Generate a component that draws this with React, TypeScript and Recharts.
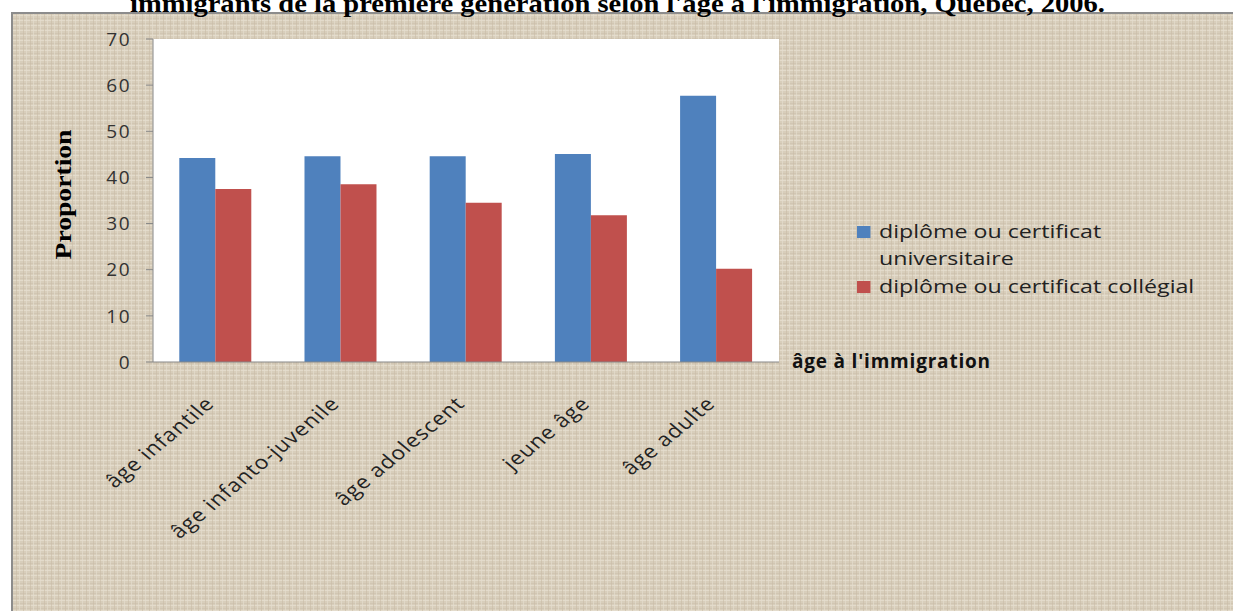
import React from 'react';
import { BarChart, Bar, XAxis, YAxis, CartesianGrid, Legend } from 'recharts';

const categories = ['âge infantile', 'âge infanto-juvenile', 'âge adolescent', 'jeune âge', 'âge adulte'];
const universitaire = [44.2, 44.6, 44.6, 45.1, 57.7];
const collegial = [37.5, 38.5, 34.5, 31.8, 20.2];
const yTicks = [0, 10, 20, 30, 40, 50, 60, 70];

const TITLE = "immigrants de la première génération selon l'âge à l'immigration, Québec, 2006.";
const SERIES_U = 'diplôme ou certificat universitaire';
const SERIES_C = 'diplôme ou certificat collégial';
const SERIES_ORDER = [SERIES_U, SERIES_C];

const BLUE = '#4F81BD';
const RED = '#C0504D';
const AXIS = '#868686';
const FONT = '"Open Sans", sans-serif';

const data = categories.map((name, i) => ({
  name,
  u: universitaire[i],
  c: collegial[i],
}));

const W = 1233;
const H = 611;

const renderLegend = (props: any) => {
  const items = [...(props.payload || [])].sort(
    (a: any, b: any) => SERIES_ORDER.indexOf(a.value) - SERIES_ORDER.indexOf(b.value)
  );
  return (
    <div
      style={{
        fontFamily: FONT,
        fontSize: 19,
        color: '#222',
        lineHeight: '27px',
        transform: 'scaleX(1.22)',
        transformOrigin: 'left top',
      }}
    >
      {items.map((entry: any) => (
        <div key={entry.value} style={{ display: 'flex', alignItems: 'flex-start', marginBottom: 1 }}>
          <span style={{ width: 11, height: 12, background: entry.color, marginTop: 8, marginRight: 7, flexShrink: 0 }} />
          <span style={{ width: 278 }}>{entry.value}</span>
        </div>
      ))}
    </div>
  );
};

// the source image is stretched sideways, so the slanted labels get the same stretch
const XTick = (props: any) => {
  const { x, y, payload } = props;
  return (
    <g transform={`translate(${x},${y + 35}) scale(1.2,1) rotate(-45)`}>
      <text textAnchor="end" fontFamily={FONT} fontSize={19} letterSpacing={0.8} fill="#222">
        {payload.value}
      </text>
    </g>
  );
};

export default function App() {
  return (
    <div style={{ position: 'absolute', left: 0, top: 0, width: W, height: H, overflow: 'hidden', background: '#fff' }}>
      <svg width={W} height={H} style={{ position: 'absolute', left: 0, top: 0 }}>
        <defs>
          <pattern id="linen" width="7" height="5" patternUnits="userSpaceOnUse">
            <rect width="7" height="5" fill="#d8cebb" />
            <rect x="0" y="0" width="7" height="1" fill="#e3dbcb" />
            <rect x="0" y="3" width="7" height="1" fill="#cfc4af" opacity="0.7" />
            <rect x="2" y="0" width="1" height="5" fill="#c9bda7" opacity="0.6" />
            <rect x="5" y="0" width="1" height="5" fill="#e5ddce" opacity="0.7" />
          </pattern>
        </defs>
        <rect x={12} y={13} width={W} height={H} fill="url(#linen)" stroke="#8c8c8c" strokeWidth={2} />
        <text
          x={130}
          y={12}
          textLength={975}
          lengthAdjust="spacingAndGlyphs"
          fontFamily='"Liberation Serif", serif'
          fontWeight="bold"
          fontSize={26}
          fill="#000"
        >
          {TITLE}
        </text>
      </svg>
      <div style={{ position: 'absolute', left: 0, top: 0 }}>
        <BarChart
          width={W}
          height={H}
          data={data}
          margin={{ top: 39, right: 454, left: 93, bottom: 129 }}
          barCategoryGap="21%"
          barGap={0}
        >
          <CartesianGrid fill="#fff" horizontal={false} vertical={false} />
          <YAxis
            width={60}
            domain={[0, 70]}
            ticks={yTicks}
            interval={0}
            tickLine={{ stroke: AXIS }}
            axisLine={{ stroke: AXIS }}
            tickSize={7}
            tickMargin={15}
            tick={{ fontFamily: FONT, fontSize: 19, fill: '#333', letterSpacing: 1.5 }}
            label={{
              content: (p: any) => {
                const vb = p.viewBox;
                const cx = 63;
                const cy = vb.y + vb.height / 2 - 6;
                return (
                  <text
                    x={cx}
                    y={cy}
                    transform={`rotate(-90, ${cx}, ${cy})`}
                    textAnchor="middle"
                    dominantBaseline="central"
                    textLength={130}
                    lengthAdjust="spacingAndGlyphs"
                    fontFamily='"Liberation Serif", serif'
                    fontWeight="bold"
                    fontSize={24}
                    fill="#000"
                  >
                    Proportion
                  </text>
                );
              },
            }}
          />
          <XAxis
            dataKey="name"
            height={120}
            interval={0}
            tickLine={false}
            axisLine={{ stroke: AXIS }}
            tick={<XTick />}
            label={{
              content: (p: any) => {
                const vb = p.viewBox;
                return (
                  <text
                    x={vb.x + vb.width + 13}
                    y={vb.y + 6}
                    fontFamily={FONT}
                    fontWeight="bold"
                    fontSize={19}
                    letterSpacing={0.8}
                    fill="#111"
                  >
                    âge à l'immigration
                  </text>
                );
              },
            }}
          />
          <Legend
            layout="vertical"
            verticalAlign="middle"
            align="center"
            content={renderLegend}
            wrapperStyle={{ left: 857, top: 218, width: 370, height: 90 }}
          />
          <Bar dataKey="u" name={SERIES_U} fill={BLUE} isAnimationActive={false} />
          <Bar dataKey="c" name={SERIES_C} fill={RED} isAnimationActive={false} />
        </BarChart>
      </div>
    </div>
  );
}
